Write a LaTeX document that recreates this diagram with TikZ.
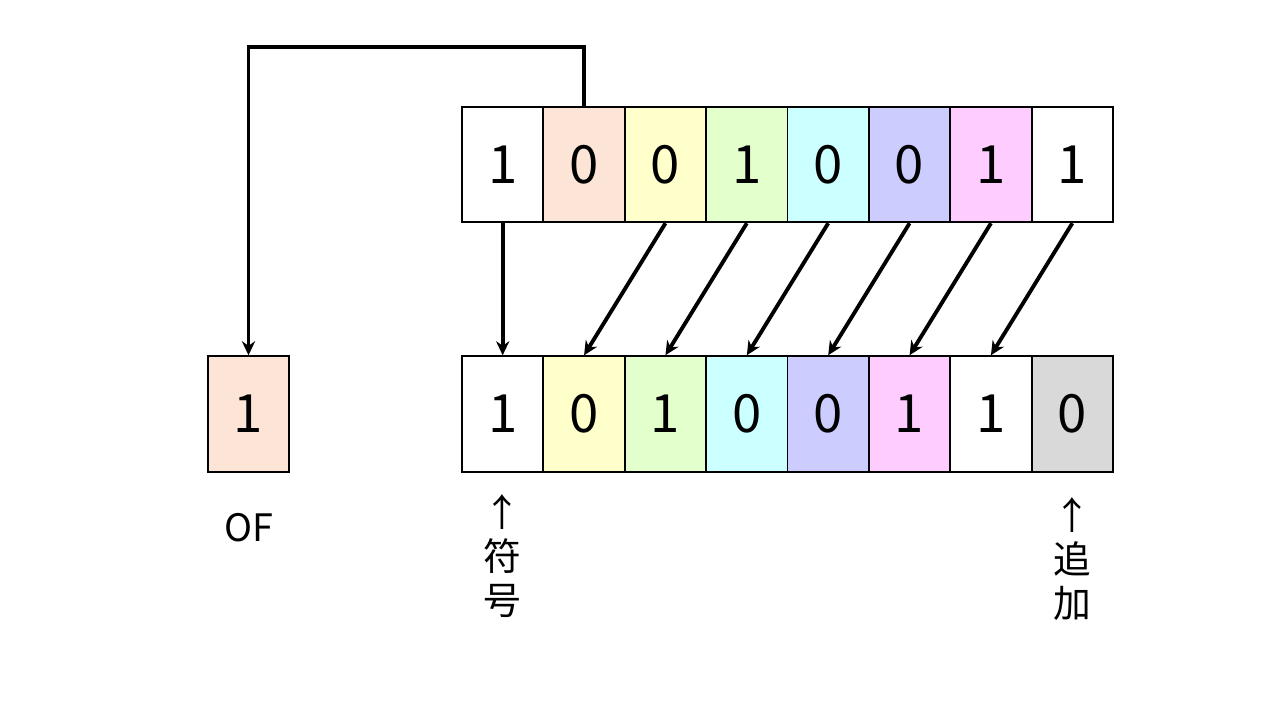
\documentclass[tikz,border=0pt]{standalone}
\usepackage{fontspec}
\setmainfont{Noto Sans CJK JP}
\usetikzlibrary{arrows.meta}
\definecolor{cpeach}{HTML}{FCE4D6}
\definecolor{cyellow}{HTML}{FFFFCC}
\definecolor{cgreen}{HTML}{E3FFCC}
\definecolor{ccyan}{HTML}{CCFFFF}
\definecolor{clav}{HTML}{CCCCFF}
\definecolor{cpink}{HTML}{FFCCFF}
\definecolor{cgray}{HTML}{D9D9D9}
\begin{document}
\begin{tikzpicture}[x=0.02cm,y=-0.02cm]
\tikzstyle{every node}+=[inner sep=0pt]
\tikzstyle{cell}=[draw, line width=1.1pt, minimum width=1.628cm, minimum height=2.31cm, font=\fontsize{30}{30}\selectfont]
\tikzstyle{conn}=[line width=2.2pt, -{Stealth[length=8pt,width=7.5pt]}]
\tikzstyle{lbl}=[align=center, font=\fontsize{21.5}{25}\selectfont]
\useasboundingbox (0,0) rectangle (1280,720);
% register before the shift
\foreach \c/\v [count=\i] in {white/1,cpeach/0,cyellow/0,cgreen/1,ccyan/0,clav/0,cpink/1,white/1}
  \node[cell, fill=\c] (t\i) at ({462+81.375*(\i-0.5)},164.5) {\v};
% register after the shift
\foreach \c/\v [count=\i] in {white/1,cyellow/0,cgreen/1,ccyan/0,clav/0,cpink/1,white/1,cgray/0}
  \node[cell, fill=\c] (b\i) at ({462+81.375*(\i-0.5)},414) {\v};
\node[cell, fill=cpeach] (of) at (248.5,414) {1};
% shifted bits
\foreach \i in {3,...,8} {
  \pgfmathtruncatemacro{\j}{\i-1}
  \draw[conn] (t\i.south) -- (b\j.north);
}
\draw[conn] (t1.south) -- (b1.north);
\draw[conn] (t2.north) -- ++(0,-59) -| (of.north);
% labels
\node[lbl] (oflbl) at (248.5,528) {OF};
\node[lbl] (sign) at (502,556) {↑\\符\\号};
\node[lbl] (fill) at (1072,559) {↑\\追\\加};
\end{tikzpicture}
\end{document}
